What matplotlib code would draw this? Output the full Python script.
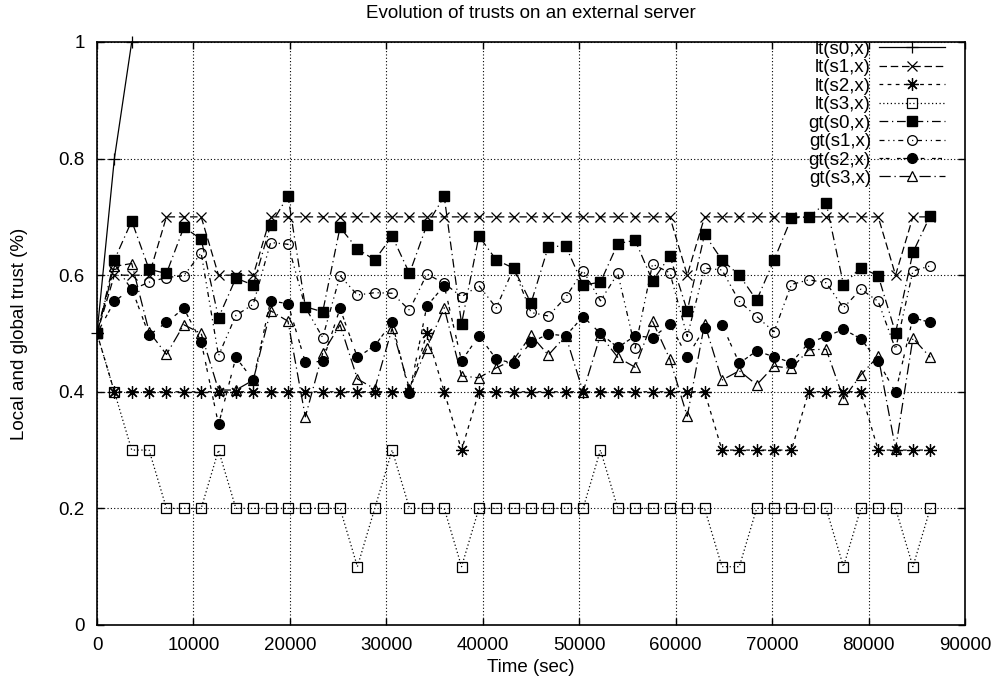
import numpy as np
import matplotlib.pyplot as plt

plt.rcParams['font.family'] = ['Liberation Sans', 'DejaVu Sans']
plt.rcParams['font.size'] = 13.5

# sampling times (sec), one sample every 30 min over a day
times = np.arange(49) * 1800

# local trust
lt_s0 = [0.5, 0.8, 1.0]
lt_s1 = [0.5, 0.6, 0.6, 0.6, 0.7, 0.7, 0.7, 0.6, 0.6, 0.6,
         0.7, 0.7, 0.7, 0.7, 0.7, 0.7, 0.7, 0.7, 0.7, 0.7,
         0.7, 0.7, 0.7, 0.7, 0.7, 0.7, 0.7, 0.7, 0.7, 0.7,
         0.7, 0.7, 0.7, 0.7, 0.6, 0.7, 0.7, 0.7, 0.7, 0.7,
         0.7, 0.7, 0.7, 0.7, 0.7, 0.7, 0.6, 0.7, 0.7]
lt_s2 = [0.5, 0.4, 0.4, 0.4, 0.4, 0.4, 0.4, 0.4, 0.4, 0.4,
         0.4, 0.4, 0.4, 0.4, 0.4, 0.4, 0.4, 0.4, 0.4, 0.5,
         0.4, 0.3, 0.4, 0.4, 0.4, 0.4, 0.4, 0.4, 0.4, 0.4,
         0.4, 0.4, 0.4, 0.4, 0.4, 0.4, 0.3, 0.3, 0.3, 0.3,
         0.3, 0.4, 0.4, 0.4, 0.4, 0.3, 0.3, 0.3, 0.3]
lt_s3 = [0.5, 0.4, 0.3, 0.3, 0.2, 0.2, 0.2, 0.3, 0.2, 0.2,
         0.2, 0.2, 0.2, 0.2, 0.2, 0.1, 0.2, 0.3, 0.2, 0.2,
         0.2, 0.1, 0.2, 0.2, 0.2, 0.2, 0.2, 0.2, 0.2, 0.3,
         0.2, 0.2, 0.2, 0.2, 0.2, 0.2, 0.1, 0.1, 0.2, 0.2,
         0.2, 0.2, 0.2, 0.1, 0.2, 0.2, 0.2, 0.1, 0.2]

# global trust
gt_s0 = [0.5, 0.626, 0.693, 0.610, 0.603, 0.682, 0.662, 0.527, 0.595, 0.583,
         0.686, 0.736, 0.546, 0.537, 0.682, 0.645, 0.626, 0.667, 0.603, 0.686,
         0.735, 0.517, 0.667, 0.626, 0.612, 0.552, 0.649, 0.650, 0.583, 0.588,
         0.654, 0.660, 0.590, 0.633, 0.539, 0.670, 0.626, 0.600, 0.557, 0.626,
         0.698, 0.700, 0.724, 0.584, 0.613, 0.599, 0.501, 0.639, 0.702]
gt_s1 = [0.5, 0.619, 0.575, 0.588, 0.596, 0.599, 0.638, 0.462, 0.531, 0.550,
         0.656, 0.653, 0.545, 0.493, 0.599, 0.566, 0.570, 0.569, 0.540, 0.602,
         0.586, 0.563, 0.582, 0.544, 0.612, 0.536, 0.530, 0.562, 0.608, 0.556,
         0.603, 0.475, 0.619, 0.604, 0.495, 0.612, 0.609, 0.555, 0.529, 0.503,
         0.584, 0.592, 0.587, 0.544, 0.576, 0.555, 0.473, 0.607, 0.616]
gt_s2 = [0.5, 0.555, 0.577, 0.497, 0.519, 0.543, 0.486, 0.344, 0.459, 0.420,
         0.556, 0.551, 0.451, 0.452, 0.543, 0.459, 0.479, 0.519, 0.398, 0.547,
         0.582, 0.453, 0.496, 0.456, 0.449, 0.485, 0.499, 0.496, 0.529, 0.500,
         0.476, 0.496, 0.493, 0.516, 0.460, 0.509, 0.515, 0.449, 0.470, 0.460,
         0.450, 0.484, 0.495, 0.507, 0.491, 0.452, 0.399, 0.527, 0.519]
gt_s3 = [0.5, 0.615, 0.620, 0.503, 0.464, 0.515, 0.500, 0.403, 0.403, 0.420,
         0.539, 0.521, 0.357, 0.466, 0.515, 0.422, 0.405, 0.509, 0.405, 0.475,
         0.544, 0.427, 0.424, 0.441, 0.455, 0.497, 0.463, 0.496, 0.400, 0.497,
         0.459, 0.442, 0.521, 0.456, 0.358, 0.517, 0.420, 0.436, 0.412, 0.444,
         0.440, 0.472, 0.473, 0.388, 0.429, 0.461, 0.302, 0.492, 0.459]

fig = plt.figure(figsize=(9.97, 6.88), dpi=100)
ax = fig.add_axes([0.0973, 0.0916, 0.8706, 0.8474])

k = dict(color='black', lw=0.9)
ax.plot(times[:3], lt_s0, ls='-', marker='+', ms=9, mew=0.9, clip_on=False, label='lt(s0,x)', **k)
ax.plot(times, lt_s1, ls=(0, (6, 3)), marker='x', ms=7, mew=0.9, label='lt(s1,x)', **k)
ax.plot(times, lt_s2, ls=(0, (3, 3.5)), marker=(8, 2, 0), ms=9, mew=0.9, label='lt(s2,x)', **k)
ax.plot(times, lt_s3, ls=(0, (1, 2)), marker='s', ms=7, mfc='none', mew=0.9, label='lt(s3,x)', **k)
ax.plot(times, gt_s0, ls=(0, (7, 3, 1, 3)), marker='s', ms=7, label='gt(s0,x)', **k)
ax.plot(times, gt_s1, ls=(0, (4, 3, 1, 3, 1, 3)), marker='o', ms=7, mfc='none', mew=0.9, label='gt(s1,x)', **k)
ax.plot(times, gt_s2, ls=(0, (3, 2, 3, 6)), marker='o', ms=7, label='gt(s2,x)', **k)
ax.plot(times, gt_s3, ls=(0, (9, 3, 1, 3)), marker='^', ms=7, mfc='none', mew=0.9, label='gt(s3,x)', **k)

ax.set_xlim(0, 90000)
ax.set_ylim(0, 1)
ax.set_xticks(np.arange(0, 90001, 10000))
ax.set_yticks([0, 0.2, 0.4, 0.6, 0.8, 1])
ax.set_yticklabels(['0', '0.2', '0.4', '0.6', '0.8', '1'])
ax.grid(True, color='black', ls=(0, (1, 2)), lw=0.8)
ax.tick_params(direction='in', length=5, width=1, top=True, right=True, labelsize=13.5, pad=9)
for s in ax.spines.values():
    s.set_linewidth(1.2)

ax.set_title('Evolution of trusts on an external server', fontsize=13.5, pad=17)
ax.set_xlabel('Time (sec)', fontsize=13.5, labelpad=3)
ax.set_ylabel('Local and global trust (%)', fontsize=13.5, labelpad=22)

ax.legend(loc='upper right', bbox_to_anchor=(0.977, 1.002), markerfirst=False, frameon=False,
          borderpad=0, borderaxespad=0, handlelength=3.5, handletextpad=0.45,
          labelspacing=0.07, fontsize=13.5)

fig.savefig('out.png', dpi=100)
